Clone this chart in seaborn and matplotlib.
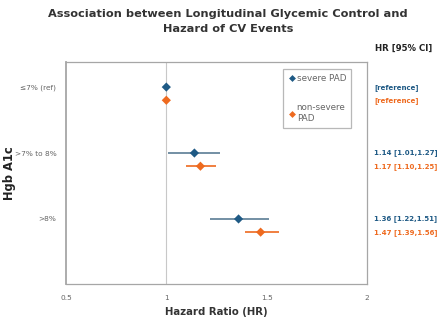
import matplotlib
matplotlib.use("Agg")
import matplotlib.pyplot as plt
from matplotlib.lines import Line2D
import seaborn as sns
import pandas as pd
import numpy as np

categories = ["≤7% (ref)", ">7% to 8%", ">8%"]
groups = ["severe PAD", "non-severe PAD"]
hr_severe = [1.00, 1.14, 1.36]
lo_severe = [1.00, 1.01, 1.22]
hi_severe = [1.00, 1.27, 1.51]
hr_nonsev = [1.00, 1.17, 1.47]
lo_nonsev = [1.00, 1.10, 1.39]
hi_nonsev = [1.00, 1.25, 1.56]
label_severe = ["[reference]", "1.14 [1.01,1.27]", "1.36 [1.22,1.51]"]
label_nonsev = ["[reference]", "1.17 [1.10,1.25]", "1.47 [1.39,1.56]"]

sns.set_style("white")
plt.rcParams['font.family'] = ['DejaVu Sans']

blue = "#1f5a85"
blue_line = "#5b7d95"
orange = "#ee6a1f"
offset = 0.2

rows = []
for i, c in enumerate(categories):
    rows.append(dict(cat=c, y=i, group=groups[0], hr=hr_severe[i], lo=lo_severe[i], hi=hi_severe[i], lab=label_severe[i]))
    rows.append(dict(cat=c, y=i + offset, group=groups[1], hr=hr_nonsev[i], lo=lo_nonsev[i], hi=hi_nonsev[i], lab=label_nonsev[i]))
df = pd.DataFrame(rows)

fig = plt.figure(figsize=(4.4, 3.23), dpi=100)
ax = fig.add_axes([0.15, 0.121, 0.684, 0.687])

ax.axvline(1.0, color="#c8c8c8", lw=0.8, zorder=0)

line_colors = {groups[0]: blue_line, groups[1]: orange}
for _, r in df.iterrows():
    ax.hlines(r["y"], r["lo"], r["hi"], color=line_colors[r["group"]], lw=1.2, zorder=1)

sns.scatterplot(data=df, x="hr", y="y", hue="group", palette={groups[0]: blue, groups[1]: orange},
                marker="D", s=22, edgecolor="none", ax=ax, legend=False, zorder=3)

ax.set_xlim(0.5, 2.0)
ax.set_ylim(2.985, -0.38)
ax.set_xticks([0.5, 1, 1.5, 2])
ax.set_xticklabels(["0.5", "1", "1.5", "2"])
ax.set_yticks(range(len(categories)))
ax.set_yticklabels(categories)
ax.tick_params(axis="both", labelsize=5.3, labelcolor="#666666", length=0)
ax.tick_params(axis="x", pad=8)
ax.tick_params(axis="y", pad=7)
for s in ax.spines.values():
    s.set_color("#a6a6a6")
    s.set_linewidth(0.9)
ax.spines["left"].set_linewidth(1.3)

ax.set_xlabel("Hazard Ratio (HR)", fontsize=7.3, fontweight="bold", color="#333333", labelpad=4)
ax.set_ylabel("Hgb A1c", fontsize=8.3, fontweight="bold", color="#222222")
ax.yaxis.set_label_coords(-0.165, 0.5)

for _, r in df.iterrows():
    col = blue if r["group"] == groups[0] else orange
    ax.annotate(r["lab"], xy=(1.0, r["y"]), xycoords=("axes fraction", "data"),
                xytext=(5, 0), textcoords="offset points", ha="left", va="center",
                fontsize=5.0, fontweight="bold", color=col, annotation_clip=False)

fig.text(0.518, 0.933, "Association between Longitudinal Glycemic Control and\nHazard of CV Events",
         ha="center", va="center", fontsize=8.2, fontweight="bold", color="#333333", linespacing=1.6)
fig.text(0.918, 0.851, "HR [95% CI]", ha="center", va="center", fontsize=6.2, fontweight="bold", color="#222222")

handles = [Line2D([0], [0], marker="D", color="none", markerfacecolor=blue, markeredgecolor="none", markersize=3.5),
           Line2D([0], [0], marker="D", color="none", markerfacecolor=orange, markeredgecolor="none", markersize=3.5)]
leg = ax.legend(handles, ["severe PAD", "non-severe\nPAD"], loc="upper left", bbox_to_anchor=(0.72, 0.968),
                fontsize=6.3, frameon=True, labelspacing=2.3, handletextpad=0.0, handlelength=1.0,
                borderpad=0.6, borderaxespad=0, fancybox=False, labelcolor="#666666")
leg.get_frame().set_edgecolor("#a6a6a6")
leg.get_frame().set_linewidth(0.9)

fig.savefig("out.png", dpi=100)
